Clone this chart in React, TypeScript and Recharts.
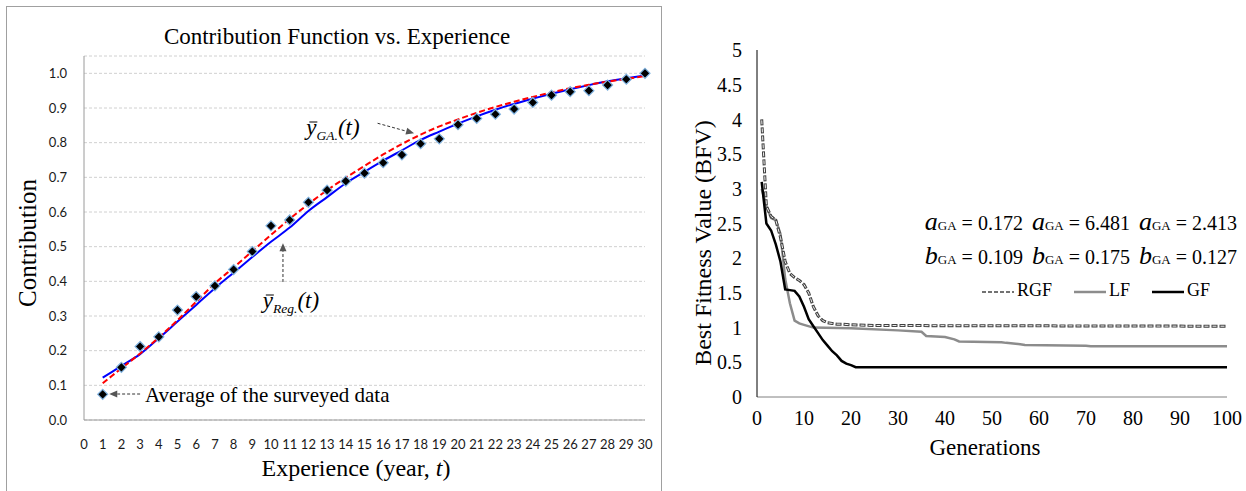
import React from "react";
import {
  CartesianGrid,
  ComposedChart,
  Line,
  LineChart,
  ReferenceLine,
  Scatter,
  XAxis,
  YAxis,
} from "recharts";

// left panel: contribution vs experience
const years = [
  1, 2, 3, 4, 5, 6, 7, 8, 9, 10, 11, 12, 13, 14, 15, 16, 17, 18, 19, 20, 21, 22,
  23, 24, 25, 26, 27, 28, 29, 30,
];
const surveyAvg = [
  0.074, 0.152, 0.212, 0.24, 0.317, 0.356, 0.387, 0.434, 0.486, 0.56, 0.577,
  0.628, 0.663, 0.689, 0.712, 0.742, 0.765, 0.797, 0.811, 0.852, 0.87, 0.882,
  0.897, 0.916, 0.937, 0.947, 0.95, 0.966, 0.983, 1.0,
];
const regFit = [
  0.122, 0.156, 0.19, 0.236, 0.284, 0.332, 0.38, 0.425, 0.47, 0.514, 0.555,
  0.603, 0.643, 0.683, 0.716, 0.748, 0.778, 0.808, 0.832, 0.855, 0.876, 0.895,
  0.912, 0.927, 0.941, 0.954, 0.966, 0.977, 0.986, 0.994,
];
const gaFit = [
  0.106, 0.149, 0.192, 0.238, 0.288, 0.341, 0.394, 0.44, 0.487, 0.534, 0.58,
  0.623, 0.663, 0.699, 0.733, 0.766, 0.796, 0.823, 0.847, 0.867, 0.886, 0.903,
  0.918, 0.932, 0.945, 0.957, 0.967, 0.976, 0.984, 0.992,
];
const leftXTicks = [
  0, 1, 2, 3, 4, 5, 6, 7, 8, 9, 10, 11, 12, 13, 14, 15, 16, 17, 18, 19, 20, 21,
  22, 23, 24, 25, 26, 27, 28, 29, 30,
];
const leftYTicks = [0, 0.1, 0.2, 0.3, 0.4, 0.5, 0.6, 0.7, 0.8, 0.9, 1.0];

// right panel: best fitness value per generation (read at the breakpoints)
const rgfGen = [1, 2, 3, 4, 5, 6, 7, 8, 9, 10, 11, 12, 13, 14, 15, 16, 17, 18, 20, 25, 100];
const rgfVal = [4.0, 2.75, 2.6, 2.55, 2.3, 1.95, 1.78, 1.72, 1.68, 1.62, 1.5, 1.3, 1.17, 1.1, 1.07, 1.06, 1.05, 1.05, 1.04, 1.03, 1.02];
const lfGen = [1, 2, 3, 4, 5, 6, 7, 8, 9, 10, 12, 20, 30, 35, 36, 40, 42, 43, 52, 53, 56, 57, 70, 71, 100];
const lfVal = [3.0, 2.75, 2.58, 2.55, 2.35, 1.7, 1.35, 1.1, 1.06, 1.04, 1.0, 0.99, 0.96, 0.94, 0.88, 0.865, 0.83, 0.8, 0.79, 0.78, 0.76, 0.75, 0.74, 0.73, 0.73];
const gfGen = [1, 2, 3, 4, 5, 6, 7, 8, 9, 10, 11, 12, 13, 14, 15, 16, 17, 18, 19, 20, 21, 100];
const gfVal = [3.1, 2.5, 2.4, 2.2, 1.95, 1.55, 1.54, 1.53, 1.45, 1.3, 1.12, 1.02, 0.92, 0.82, 0.74, 0.66, 0.6, 0.52, 0.48, 0.46, 0.43, 0.43];
const rightXTicks = [0, 10, 20, 30, 40, 50, 60, 70, 80, 90, 100];
const rightYTicks = [0, 0.5, 1, 1.5, 2, 2.5, 3, 3.5, 4, 4.5, 5];
const seriesNames = ["RGF", "LF", "GF"];
const aParams = ["0.172", "6.481", "2.413"];
const bParams = ["0.109", "0.175", "0.127"];

const contribData = years.map((t, i) => ({
  t,
  avg: surveyAvg[i],
  reg: regFit[i],
  ga: gaFit[i],
}));
const toPts = (g: number[], v: number[]) => g.map((x, i) => ({ g: x, v: v[i] }));
const rgfData = toPts(rgfGen, rgfVal);
const lfData = toPts(lfGen, lfVal);
const gfData = toPts(gfGen, gfVal);

const serif = "'Liberation Serif', 'Times New Roman', serif";

const Diamond = (p: any) => {
  const { cx, cy } = p;
  const r = 5;
  return (
    <polygon
      points={`${cx},${cy - r} ${cx + r},${cy} ${cx},${cy + r} ${cx - r},${cy}`}
      fill="#000"
      stroke="#7fb2e0"
      strokeWidth={1.2}
    />
  );
};

const Arrow = (p: any) => {
  const { x1, y1, x2, y2 } = p;
  const a = Math.atan2(y2 - y1, x2 - x1);
  const L = 8;
  const W = 3.5;
  const bx = x2 - L * Math.cos(a);
  const by = y2 - L * Math.sin(a);
  const nx = -Math.sin(a) * W;
  const ny = Math.cos(a) * W;
  return (
    <g>
      <line x1={x1} y1={y1} x2={bx} y2={by} stroke="#333" strokeDasharray="3 2" />
      <polygon points={`${x2},${y2} ${bx + nx},${by + ny} ${bx - nx},${by - ny}`} fill="#555" />
    </g>
  );
};

const Txt = ({ x, y, size, rotate, anchor = "middle", children, style }: any) => {
  const tx = anchor === "start" ? "0" : anchor === "end" ? "-100%" : "-50%";
  return (
    <div
      style={{
        position: "absolute",
        left: x,
        top: y,
        transform: `translate(${tx}, -50%)${rotate ? ` rotate(${rotate}deg)` : ""}`,
        fontFamily: serif,
        fontSize: size,
        whiteSpace: "nowrap",
        lineHeight: 1,
        color: "#000",
        pointerEvents: "none",
        ...style,
      }}
    >
      {children}
    </div>
  );
};

// y with a bar close over it, then subscript and (t)
const YBar = ({ sub, subSize }: any) => (
  <span style={{ fontStyle: "italic" }}>
    <span style={{ position: "relative" }}>
      y
      <span
        style={{
          position: "absolute",
          left: "0.12em",
          right: "-0.02em",
          top: "0.3em",
          borderTop: "1.3px solid #000",
        }}
      />
    </span>
    <span style={{ fontSize: subSize, position: "relative", top: 5 }}>{sub}</span>
    (t)
  </span>
);

const Param = ({ sym, val }: any) => (
  <span style={{ marginLeft: 9 }}>
    <span style={{ fontStyle: "italic", fontSize: 26 }}>{sym}</span>
    <span style={{ fontSize: 13 }}>GA</span>
    <span style={{ fontSize: 20 }}> = {val}</span>
  </span>
);

const legendStyles = [
  { stroke: "#444", width: 1.5, dash: "4 2" },
  { stroke: "#8c8c8c", width: 2.5, dash: undefined },
  { stroke: "#000", width: 2.5, dash: undefined },
];

const App = () => {
  return (
    <div
      style={{
        position: "absolute",
        left: 0,
        top: 0,
        width: 1246,
        height: 491,
        background: "#fff",
        overflow: "hidden",
      }}
    >
      <div
        style={{
          position: "absolute",
          left: 6,
          top: 6,
          width: 654,
          height: 500,
          border: "1px solid #a0a0a0",
        }}
      />
      <div style={{ position: "absolute", left: 0, top: 0 }}>
        <ComposedChart
          width={660}
          height={480}
          data={contribData}
          margin={{ top: 56, right: 15, bottom: 0, left: 0 }}
        >
          <CartesianGrid vertical={false} stroke="#d0d0d0" strokeDasharray="3 2" />
          <XAxis
            dataKey="t"
            type="number"
            domain={[0, 30]}
            ticks={leftXTicks}
            interval={0}
            tickLine={false}
            tickSize={0}
            tickMargin={20}
            height={60}
            stroke="#9a9a9a"
            tick={{ fontFamily: "Lato", fontSize: 13, fill: "#1a1a1a" }}
          />
          <YAxis
            type="number"
            domain={[0, 1.05]}
            ticks={leftYTicks}
            tickFormatter={(v: number) => v.toFixed(1)}
            tickLine={false}
            tickSize={0}
            tickMargin={17}
            width={84}
            stroke="#9a9a9a"
            tick={{ fontFamily: "Lato", fontSize: 13, fill: "#1a1a1a" }}
          />
          <Line
            dataKey="reg"
            type="monotone"
            stroke="#0000ff"
            strokeWidth={2}
            dot={false}
            isAnimationActive={false}
          />
          <Line
            dataKey="ga"
            type="monotone"
            stroke="#ff0000"
            strokeWidth={2}
            strokeDasharray="6 3"
            dot={false}
            isAnimationActive={false}
          />
          <Scatter dataKey="avg" shape={Diamond} isAnimationActive={false} />
          <ReferenceLine
            segment={[
              { x: 15.7, y: 0.856 },
              { x: 17.65, y: 0.827 },
            ]}
            shape={Arrow}
          />
          <ReferenceLine
            segment={[
              { x: 10.64, y: 0.398 },
              { x: 10.64, y: 0.51 },
            ]}
            shape={Arrow}
          />
          <ReferenceLine
            segment={[
              { x: 3.0, y: 0.075 },
              { x: 1.35, y: 0.075 },
            ]}
            shape={Arrow}
          />
        </ComposedChart>
      </div>

      <div style={{ position: "absolute", left: 690, top: 0 }}>
        <LineChart width={556} height={440} margin={{ top: 50, right: 19, bottom: 0, left: 0 }}>
          <XAxis
            dataKey="g"
            type="number"
            domain={[0, 100]}
            ticks={rightXTicks}
            interval={0}
            tickLine={false}
            tickSize={0}
            tickMargin={14}
            height={43}
            stroke="#808080"
            allowDuplicatedCategory={false}
            tick={{ fontFamily: serif, fontSize: 20, fill: "#000" }}
          />
          <YAxis
            type="number"
            domain={[0, 5]}
            ticks={rightYTicks}
            tickLine={false}
            tickSize={0}
            tickMargin={15}
            width={67}
            stroke="#000"
            tick={{ fontFamily: serif, fontSize: 20, fill: "#000" }}
          />
          <Line
            data={lfData}
            dataKey="v"
            name={seriesNames[1]}
            type="linear"
            stroke="#8c8c8c"
            strokeWidth={2.5}
            dot={false}
            isAnimationActive={false}
          />
          <Line
            data={rgfData}
            dataKey="v"
            name={seriesNames[0]}
            type="linear"
            stroke="#404040"
            strokeWidth={3}
            strokeDasharray="6 2"
            dot={false}
            isAnimationActive={false}
          />
          <Line
            data={rgfData}
            dataKey="v"
            name="RGF-inner"
            legendType="none"
            type="linear"
            stroke="#f4f4f4"
            strokeWidth={1}
            strokeDasharray="4 4"
            strokeDashoffset={-1}
            dot={false}
            isAnimationActive={false}
          />
          <Line
            data={gfData}
            dataKey="v"
            name={seriesNames[2]}
            type="linear"
            stroke="#000"
            strokeWidth={2.5}
            dot={false}
            isAnimationActive={false}
          />
        </LineChart>
      </div>

      {/* left panel texts */}
      <Txt x={337} y={36} size={23}>Contribution Function vs. Experience</Txt>
      <Txt x={27} y={243} size={25} rotate={-90}>Contribution</Txt>
      <Txt x={356} y={468} size={24}>
        Experience (year, <i>t</i>)
      </Txt>
      <Txt x={145} y={395} size={21} anchor="start">Average of the surveyed data</Txt>
      <Txt x={333} y={127} size={23}>
        <YBar sub="GA." subSize={13.5} />
      </Txt>
      <Txt x={291} y={300} size={23}>
        <YBar sub="Reg." subSize={13.5} />
      </Txt>

      {/* right panel texts */}
      <Txt x={703} y={243} size={24} rotate={-90}>Best Fitness Value (BFV)</Txt>
      <Txt x={985} y={447} size={23}>Generations</Txt>
      <Txt x={1237} y={222} size={20} anchor="end">
        {aParams.map((v, i) => (
          <Param key={i} sym="a" val={v} />
        ))}
      </Txt>
      <Txt x={1237} y={256} size={20} anchor="end">
        {bParams.map((v, i) => (
          <Param key={i} sym="b" val={v} />
        ))}
      </Txt>
      <Txt x={982} y={290} size={18} anchor="start">
        {seriesNames.map((n, i) => (
          <span key={n} style={{ marginRight: i < 2 ? 22 : 0 }}>
            <svg width={32} height={8} style={{ verticalAlign: "middle", marginRight: 3 }}>
              <line
                x1={0}
                y1={4}
                x2={32}
                y2={4}
                stroke={legendStyles[i].stroke}
                strokeWidth={legendStyles[i].width}
                strokeDasharray={legendStyles[i].dash}
              />
            </svg>
            {n}
          </span>
        ))}
      </Txt>
    </div>
  );
};

export default App;
